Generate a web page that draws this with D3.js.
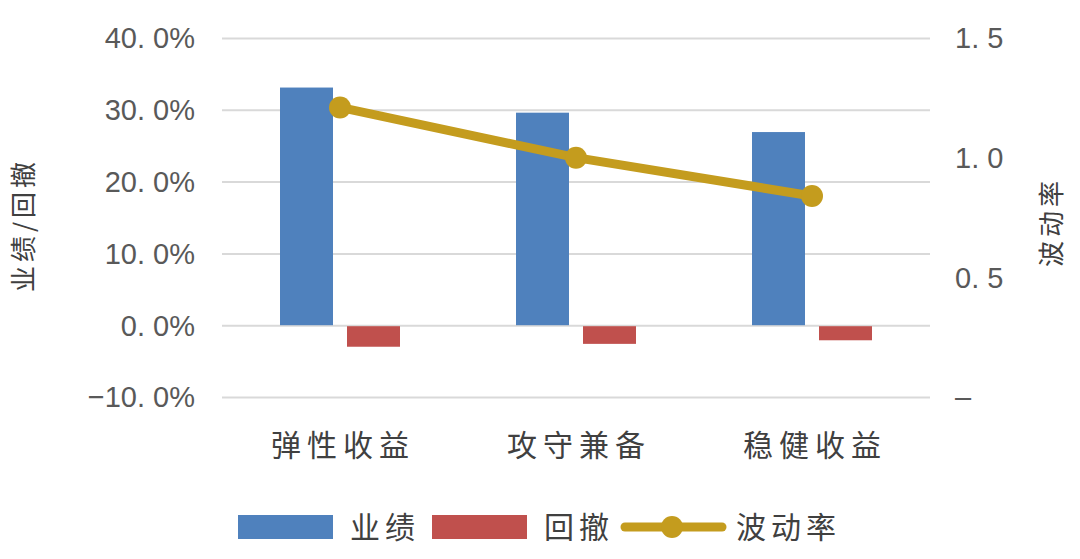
<!DOCTYPE html>
<html lang="zh">
<head>
<meta charset="utf-8">
<title>业绩/回撤/波动率</title>
<script src="https://cdn.jsdelivr.net/npm/d3@7/dist/d3.min.js"></script>
<style>
  body { margin: 0; background: #fff; }
  .grid line { stroke: #d9d9d9; stroke-width: 2; }
  .grid path { display: none; }
  .num { font-family: "Liberation Sans", Arial, sans-serif; font-size: 29px; fill: #595959; }
  .cjk { font-family: "Noto Sans CJK SC", sans-serif; fill: #404040; }
</style>
</head>
<body>
<svg id="chart" width="1080" height="559"></svg>
<script>
// data
var categories = ["弹性收益", "攻守兼备", "稳健收益"];
var perf = [33.1, 29.6, 26.9];        // 业绩 %
var drawdown = [-3.0, -2.6, -2.1];    // 回撤 %
var vol = [1.21, 1.00, 0.84];         // 波动率
var leftTicks = [-10, 0, 10, 20, 30, 40];
var rightTicks = [0, 0.5, 1.0, 1.5];

var svg = d3.select("#chart");
var plotLeft = 222, plotRight = 930, plotTop = 38, plotBottom = 397;

var x = d3.scaleBand().domain(categories).range([plotLeft, plotRight]);
var yL = d3.scaleLinear().domain([-10, 40]).range([plotBottom, plotTop]);
var yR = d3.scaleLinear().domain([0, 1.5]).range([plotBottom, plotTop]);

var barW = 53, gap = 14;

// gridlines
svg.append("g").attr("class", "grid")
    .attr("transform", "translate(" + plotLeft + ",0)")
    .call(d3.axisLeft(yL).tickValues(leftTicks).tickSize(-(plotRight - plotLeft)).tickFormat(""));

// left labels
svg.selectAll(".ltick").data(leftTicks).enter().append("text")
    .attr("class", "num")
    .attr("x", 195)
    .attr("y", function(d) { return yL(d); })
    .attr("dy", "0.36em")
    .attr("text-anchor", "end")
    .text(function(d) { return (d < 0 ? "\u2212" : "") + Math.abs(d).toFixed(1).replace(".", ". ") + "%"; });

// right labels
svg.selectAll(".rtick").data(rightTicks).enter().append("text")
    .attr("class", "num")
    .attr("x", 955)
    .attr("y", function(d) { return yR(d); })
    .attr("dy", "0.36em")
    .text(function(d) { return d === 0 ? "\u2013" : d.toFixed(1).replace(".", ". "); });

// bars
svg.selectAll(".perf").data(perf).enter().append("rect")
    .attr("fill", "#4f81bd")
    .attr("x", function(d, i) { return x(categories[i]) + x.bandwidth() / 2 - gap / 2 - barW; })
    .attr("y", function(d) { return yL(d); })
    .attr("width", barW)
    .attr("height", function(d) { return yL(0) - yL(d); });

svg.selectAll(".dd").data(drawdown).enter().append("rect")
    .attr("fill", "#c0504d")
    .attr("x", function(d, i) { return x(categories[i]) + x.bandwidth() / 2 + gap / 2; })
    .attr("y", yL(0) + 1)
    .attr("width", barW)
    .attr("height", function(d) { return yL(d) - yL(0) - 1; });

// line
var line = d3.line()
    .x(function(d, i) { return x(categories[i]) + x.bandwidth() / 2; })
    .y(function(d) { return yR(d); });

svg.append("path").datum(vol)
    .attr("d", line)
    .attr("fill", "none")
    .attr("stroke", "#c49c1e")
    .attr("stroke-width", 9);

svg.selectAll(".dot").data(vol).enter().append("circle")
    .attr("cx", function(d, i) { return x(categories[i]) + x.bandwidth() / 2; })
    .attr("cy", function(d) { return yR(d); })
    .attr("r", 11)
    .attr("fill", "#c49c1e");

// category labels
svg.selectAll(".cat").data(categories).enter().append("text")
    .attr("class", "cjk")
    .attr("x", function(d) { return x(d) + x.bandwidth() / 2 + 3; })
    .attr("y", 445)
    .attr("dy", "0.36em")
    .attr("text-anchor", "middle")
    .attr("font-size", 30)
    .attr("letter-spacing", 6)
    .text(function(d) { return d; });

// axis titles
svg.append("text").attr("class", "cjk")
    .attr("transform", "translate(24,225) rotate(-90)")
    .attr("text-anchor", "middle").attr("dy", "0.36em")
    .attr("font-size", 26).attr("letter-spacing", 4)
    .text("业绩/回撤");

svg.append("text").attr("class", "cjk")
    .attr("transform", "translate(1052,222) rotate(-90)")
    .attr("text-anchor", "middle").attr("dy", "0.36em")
    .attr("font-size", 26).attr("letter-spacing", 4)
    .text("波动率");

// legend
var lg = svg.append("g");
lg.append("rect").attr("x", 238).attr("y", 515).attr("width", 95).attr("height", 24).attr("fill", "#4f81bd");
lg.append("text").attr("class", "cjk").attr("x", 350).attr("y", 527).attr("dy", "0.36em")
    .attr("font-size", 30).attr("letter-spacing", 5).text("业绩");
lg.append("rect").attr("x", 432).attr("y", 515).attr("width", 95).attr("height", 24).attr("fill", "#c0504d");
lg.append("text").attr("class", "cjk").attr("x", 544).attr("y", 527).attr("dy", "0.36em")
    .attr("font-size", 30).attr("letter-spacing", 5).text("回撤");
lg.append("line").attr("x1", 625).attr("x2", 722).attr("y1", 527).attr("y2", 527)
    .attr("stroke", "#c49c1e").attr("stroke-width", 9).attr("stroke-linecap", "round");
lg.append("circle").attr("cx", 672).attr("cy", 527).attr("r", 11).attr("fill", "#c49c1e");
lg.append("text").attr("class", "cjk").attr("x", 736).attr("y", 527).attr("dy", "0.36em")
    .attr("font-size", 30).attr("letter-spacing", 5).text("波动率");
</script>
</body>
</html>
